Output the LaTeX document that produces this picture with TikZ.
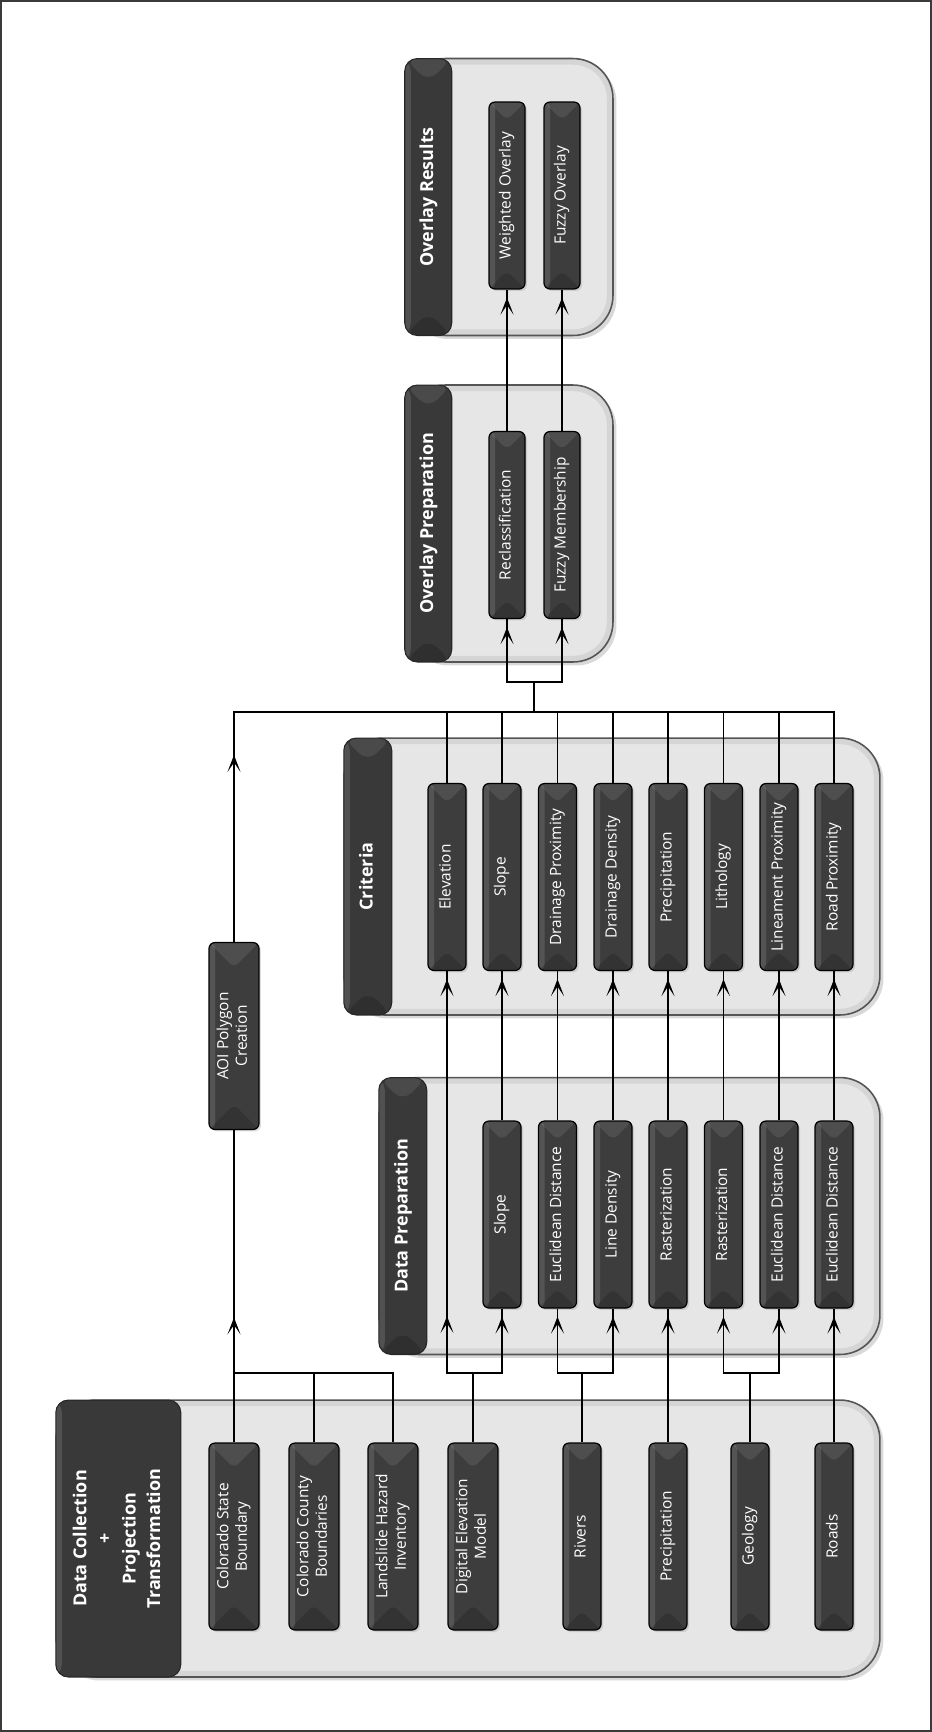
\documentclass[tikz,border=0pt]{standalone}
\usepackage{fontspec}
\setmainfont{Open Sans}
\usepackage{graphicx}
\usepackage{tikz}
\usetikzlibrary{arrows.meta,positioning,calc,shadows,decorations.markings}
\definecolor{MapFrame}{HTML}{3A3A3A}
\definecolor{MapPanel}{HTML}{E6E6E6}
\definecolor{MapEdge}{HTML}{555555}
\definecolor{MapItem}{HTML}{3D3D3D}
\definecolor{MapHead}{HTML}{393939}
\newcommand{\vtext}[1]{\rotatebox{90}{\begin{tabular}{@{}c@{}}#1\end{tabular}}}
\tikzset{
  flowtip/.tip={Stealth[length=3.4mm,width=2.6mm,inset=1.9mm]},
  sidebevel/.style={path picture={
    \fill[white,opacity=0.12] (path picture bounding box.north west) -- (path picture bounding box.south west) -- ([xshift=1.2mm]path picture bounding box.south west) -- ([xshift=1.2mm]path picture bounding box.north west) -- cycle;
  }},
  bevel/.style={path picture={
    \fill[white,opacity=0.12] (path picture bounding box.north west) -- (path picture bounding box.south west) -- ([xshift=1.2mm]path picture bounding box.south west) -- ([xshift=1.2mm]path picture bounding box.north west) -- cycle;
    \fill[white,opacity=0.09] (path picture bounding box.north west) -- (path picture bounding box.north east) -- ($(path picture bounding box.north)!1!90:(path picture bounding box.north west)$) -- cycle;
    \fill[black,opacity=0.16] (path picture bounding box.south west) -- (path picture bounding box.south east) -- ($(path picture bounding box.south)!1!-90:(path picture bounding box.south west)$) -- cycle;
  }},
  panel/.style={draw=MapEdge,line width=0.9pt,fill=MapPanel,rounded corners=8mm,inner sep=0pt,minimum height=5.54cm,drop shadow={shadow xshift=0.7mm,shadow yshift=-0.7mm,opacity=0.3},
    path picture={\draw[black,opacity=0.07,line width=7pt,rounded corners=8mm] (path picture bounding box.south west) rectangle (path picture bounding box.north east);}},
  headbox/.style={draw=black!85,line width=0.6pt,fill=MapHead,rounded corners=2.5mm,bevel,text=white,font=\fontsize{10.2}{14}\selectfont\bfseries,inner sep=0pt,minimum width=0.96cm,minimum height=5.54cm},
  itembox/.style={draw=black,line width=0.7pt,fill=MapItem,rounded corners=1.2mm,bevel,text=white,font=\fontsize{8.8}{10.5}\selectfont,inner sep=0pt,minimum width=0.76cm,minimum height=3.74cm,drop shadow={shadow xshift=0.4mm,shadow yshift=-0.4mm,opacity=0.25}},
  widebox/.style={itembox,minimum width=1.0cm},
  link/.style={line width=1.1pt,draw=black},
  tipat/.style={postaction={decorate,decoration={markings,mark=at position #1 with {\arrow{flowtip}}}}},
  tipend/.style={tipat=-0.16cm}
}

\begin{document}
\begin{tikzpicture}[x=0.02cm,y=-0.02cm]
\useasboundingbox (0,0) rectangle (932,1732);
\draw[MapFrame,line width=1.2pt] (1,1) rectangle (931,1731);
% group panels
\node[panel,minimum width=16.48cm] (dcpanel) at (468,1538.5) {};
\node[panel,minimum width=10.02cm] (dppanel) at (629.5,1216) {};
\node[panel,minimum width=10.72cm] (crpanel) at (612,876.5) {};
\node[panel,minimum width=4.16cm] (oppanel) at (509,523.5) {};
\node[panel,minimum width=4.16cm] (orpanel) at (509,197) {};
% headers
\node[headbox,sidebevel,anchor=west,minimum width=2.5cm] (dchead) at (dcpanel.west) {\vtext{Data Collection\\+\\Projection\\Transformation}};
\node[headbox,anchor=west] (dphead) at (dppanel.west) {\vtext{Data Preparation}};
\node[headbox,anchor=west] (crhead) at (crpanel.west) {\vtext{Criteria}};
\node[headbox,anchor=west,minimum width=0.94cm] (ophead) at (oppanel.west) {\vtext{Overlay Preparation}};
\node[headbox,anchor=west,minimum width=0.94cm] (orhead) at (orpanel.west) {\vtext{Overlay Results}};
% data collection
\node[widebox] (csb) at (234,1536.5) {\vtext{Colorado State\\Boundary}};
\node[widebox] (ccb) at (314,1536.5) {\vtext{Colorado County\\Boundaries}};
\node[widebox] (lhi) at (393,1536.5) {\vtext{Landslide Hazard\\Inventory}};
\node[widebox] (dem) at (473,1536.5) {\vtext{Digital Elevation\\Model}};
\node[itembox] (rivers) at (582,1536.5) {\vtext{Rivers}};
\node[itembox] (precip) at (668,1536.5) {\vtext{Precipitation}};
\node[itembox] (geology) at (750,1536.5) {\vtext{Geology}};
\node[itembox] (roads) at (834,1536.5) {\vtext{Roads}};
\node[widebox] (aoi) at (234,1036) {\vtext{AOI Polygon\\Creation}};
% data preparation
\node[itembox] (dpslope) at (502,1214.5) {\vtext{Slope}};
\node[itembox] (dpeucA) at (557.5,1214.5) {\vtext{Euclidean Distance}};
\node[itembox] (dpline) at (613,1214.5) {\vtext{Line Density}};
\node[itembox] (dprastA) at (668,1214.5) {\vtext{Rasterization}};
\node[itembox] (dprastB) at (723.5,1214.5) {\vtext{Rasterization}};
\node[itembox] (dpeucB) at (779,1214.5) {\vtext{Euclidean Distance}};
\node[itembox] (dpeucC) at (834,1214.5) {\vtext{Euclidean Distance}};
% criteria
\node[itembox] (crelev) at (447,877) {\vtext{Elevation}};
\node[itembox] (crslope) at (502,877) {\vtext{Slope}};
\node[itembox] (crdprox) at (557.5,877) {\vtext{Drainage Proximity}};
\node[itembox] (crdden) at (613,877) {\vtext{Drainage Density}};
\node[itembox] (crprec) at (668,877) {\vtext{Precipitation}};
\node[itembox] (crlith) at (723.5,877) {\vtext{Lithology}};
\node[itembox] (crline) at (779,877) {\vtext{Lineament Proximity}};
\node[itembox] (crroad) at (834,877) {\vtext{Road Proximity}};
% overlay
\node[itembox,minimum width=0.72cm] (reclass) at (507,525) {\vtext{Reclassification}};
\node[itembox,minimum width=0.72cm] (fuzzmem) at (562,525) {\vtext{Fuzzy Membership}};
\node[itembox,minimum width=0.72cm] (wover) at (507,195.5) {\vtext{Weighted Overlay}};
\node[itembox,minimum width=0.72cm] (fover) at (562,195.5) {\vtext{Fuzzy Overlay}};
% junctions
\coordinate (dcjoin) at (234,1373);
\coordinate (demjoin) at (473,1373);
\coordinate (rivjoin) at (582,1373);
\coordinate (geojoin) at (750,1373);
\coordinate (bus) at (534,712);
\coordinate (opsplit) at (534,682);
% connectors
\draw[link] (lhi.north) |- (dcjoin);
\draw[link] (ccb.north) -- (ccb.north |- dcjoin);
\draw[link,tipat=2.5cm] (csb.north) -- (aoi.south);
\draw[link,tipat=3.74cm] (aoi.north) |- (bus);
\draw[link] (dem.north) -- (demjoin);
\draw[link,tipend] (demjoin) -| (dpslope.south);
\draw[link,tipat=-6.9cm,tipend] (demjoin) -| (crelev.south);
\draw[link] (rivers.north) -- (rivjoin);
\draw[link,tipend] (rivjoin) -| (dpeucA.south);
\draw[link,tipend] (rivjoin) -| (dpline.south);
\draw[link,tipend] (precip.north) -- (dprastA.south);
\draw[link] (geology.north) -- (geojoin);
\draw[link,tipend] (geojoin) -| (dprastB.south);
\draw[link,tipend] (geojoin) -| (dpeucB.south);
\draw[link,tipend] (roads.north) -- (dpeucC.south);
\draw[link,tipend] (dpslope.north) -- (crslope.south);
\draw[link,tipend] (dpeucA.north) -- (crdprox.south);
\draw[link,tipend] (dpline.north) -- (crdden.south);
\draw[link,tipend] (dprastA.north) -- (crprec.south);
\draw[link,tipend] (dprastB.north) -- (crlith.south);
\draw[link,tipend] (dpeucB.north) -- (crline.south);
\draw[link,tipend] (dpeucC.north) -- (crroad.south);
\draw[link] (crelev.north) |- (bus);
\draw[link] (crslope.north) |- (bus);
\draw[link] (crdprox.north) |- (bus);
\draw[link] (crdden.north) |- (bus);
\draw[link] (crprec.north) |- (bus);
\draw[link] (crlith.north) |- (bus);
\draw[link] (crline.north) |- (bus);
\draw[link] (crroad.north) |- (bus);
\draw[link] (bus) -- (opsplit);
\draw[link,tipend] (opsplit) -| (reclass.south);
\draw[link,tipend] (opsplit) -| (fuzzmem.south);
\draw[link,tipend] (reclass.north) -- (wover.south);
\draw[link,tipend] (fuzzmem.north) -- (fover.south);
\end{tikzpicture}
\end{document}
